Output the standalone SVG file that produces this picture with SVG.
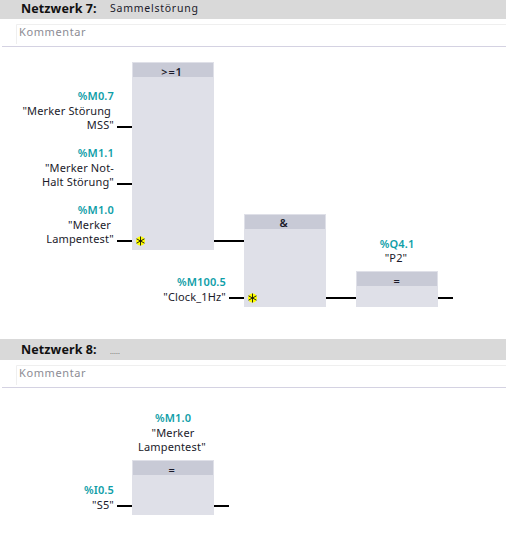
<svg xmlns="http://www.w3.org/2000/svg" width="506" height="536" viewBox="0 0 506 536">
<style>
text{font-family:"Noto Sans","Open Sans","DejaVu Sans",sans-serif;font-size:11px;fill:#1a1a2a;letter-spacing:.15px}
.a{fill:#0f9ea8;font-weight:600;text-anchor:end}
.e{text-anchor:end}
.m{text-anchor:middle}
.am{fill:#0f9ea8;font-weight:600;text-anchor:middle}
.nh{font-weight:700;font-size:12.5px;fill:#111;letter-spacing:.1px}
.k{fill:#8c8c94;font-size:11px;letter-spacing:.6px}
.t{font-size:10.500px;letter-spacing:.75px}
.band{fill:#d9d9d9}
.body{fill:#dfe0e8}
.head{fill:#c8cad6}
.w{stroke:#000;stroke-width:2;fill:none}
.sep{stroke:#d4d2e2;stroke-width:1;fill:none}
.box{stroke:#efefef;stroke-width:1;fill:none}
.star{stroke:#111;stroke-width:.9}
.sg{fill:#ff0}
.op{font-weight:600;letter-spacing:.8px}
</style>
<defs>
<g id="star"><circle r="4.500" class="sg"/><path class="star" d="M0-4.500V4.500M-4-2.200 4 2.200M-4 2.200 4-2.200"/></g>
</defs>
<g id="net7-header">
<rect class="band" x="0" y="0" width="506" height="19"/>
<text class="nh" x="21" y="13">Netzwerk 7:</text>
<text class="t" x="110" y="12">Sammelstörung</text>
<path class="box" d="M16.500 44V24.500H506"/>
<text class="k" x="19" y="36">Kommentar</text>
<path class="sep" d="M2 46.500H506"/>
</g>
<g id="connectors">
<path class="w" d="M117 127H132M117 184H132M117 241H132M214 241H244M229 298H244M326 298H356M438 298H453M117 506H132M214 506H229"/>
</g>
<g id="or-block">
<rect class="body" x="132" y="62" width="82" height="188"/>
<rect class="head" x="133" y="63" width="80" height="14"/>
<text class="m op" x="172" y="76">&gt;=1</text>
<use href="#star" x="140.500" y="241"/>
</g>
<g id="and-block">
<rect class="body" x="244" y="214" width="82" height="93"/>
<rect class="head" x="245" y="215" width="80" height="14"/>
<text class="m op" x="284" y="227">&amp;</text>
<use href="#star" x="252.500" y="298"/>
</g>
<g id="assign-q41">
<rect class="body" x="356" y="271" width="82" height="36"/>
<rect class="head" x="357" y="272" width="80" height="14"/>
<text class="m op" x="397" y="285">=</text>
<text class="am" x="397" y="248">%Q4.1</text>
<text class="m" x="396" y="262">"P2"</text>
</g>
<g id="in-m07">
<text class="a" x="114" y="100">%M0.7</text>
<text class="e" x="111" y="115">"Merker Störung</text>
<text class="e" x="114" y="129">MSS"</text>
</g>
<g id="in-m11">
<text class="a" x="114" y="157">%M1.1</text>
<text class="e" x="114" y="172">"Merker Not-</text>
<text class="e" x="114" y="186">Halt Störung"</text>
</g>
<g id="in-m10">
<text class="a" x="114" y="214">%M1.0</text>
<text class="e" x="111" y="229">"Merker</text>
<text class="e" x="114" y="243">Lampentest"</text>
</g>
<g id="in-m1005">
<text class="a" x="226" y="286">%M100.5</text>
<text class="e" x="226" y="301">"Clock_1Hz"</text>
</g>
<g id="net8-header">
<rect class="band" x="0" y="339" width="506" height="21"/>
<text class="nh" x="21" y="354">Netzwerk 8:</text>
<text x="110" y="354" style="font-size:7px;fill:#777">.....</text>
<path class="box" d="M16.500 385V365.500H506"/>
<text class="k" x="19" y="377">Kommentar</text>
<path class="sep" d="M2 387.500H506"/>
</g>
<g id="assign-m10">
<rect class="body" x="132" y="460" width="82" height="55"/>
<rect class="head" x="133" y="461" width="80" height="14"/>
<text class="m op" x="172" y="474">=</text>
<text class="am" x="173" y="422">%M1.0</text>
<text class="m" x="173" y="437">"Merker</text>
<text class="m" x="172" y="451">Lampentest"</text>
</g>
<g id="in-i05">
<text class="a" x="114" y="494">%I0.5</text>
<text class="e" x="114" y="509">"S5"</text>
</g>
</svg>
